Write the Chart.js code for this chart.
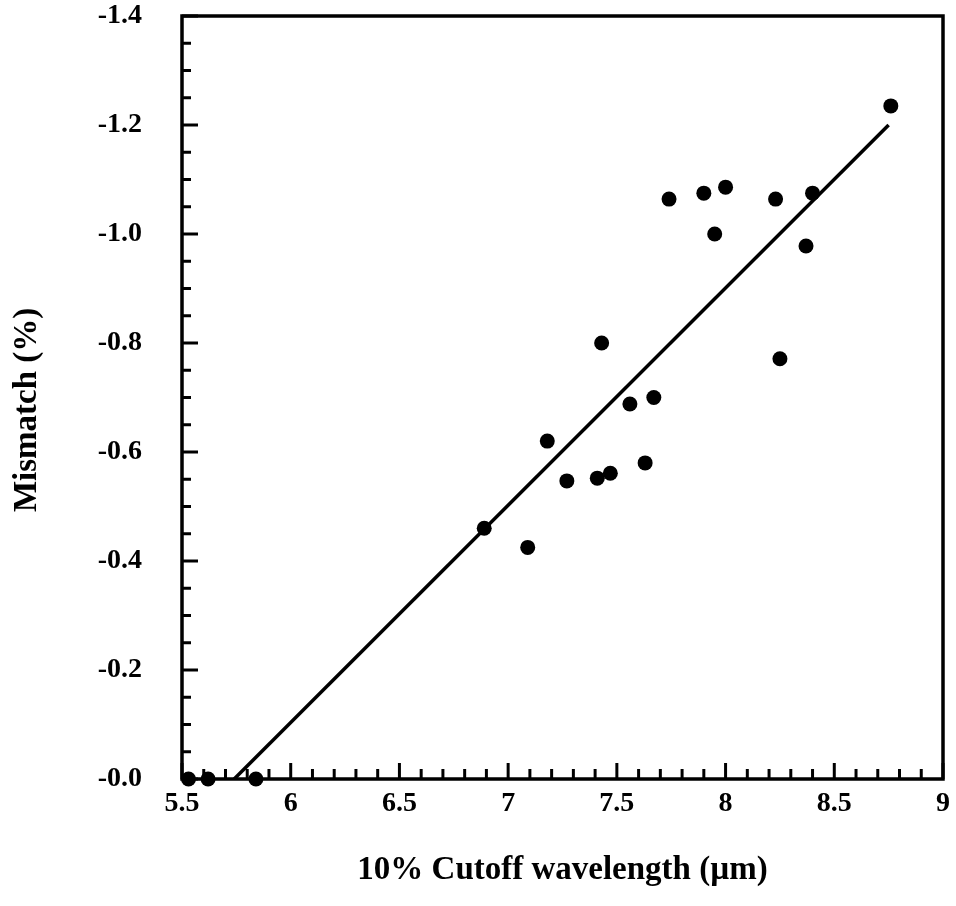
<!DOCTYPE html>
<html>
<head>
<meta charset="utf-8">
<script src="https://cdn.jsdelivr.net/npm/chart.js@4/dist/chart.umd.min.js"></script>
<style>
  html, body { margin: 0; padding: 0; background: #fff; }
  #wrap { width: 956px; height: 906px; }
</style>
</head>
<body>
<div id="wrap"><canvas id="c" width="956" height="906"></canvas></div>
<script>
// ---- data ----
const cutoffWavelength = [5.53, 5.62, 5.84, 6.89, 7.09, 7.18, 7.27, 7.41, 7.47, 7.43, 7.56, 7.63, 7.67, 7.74, 7.90, 8.00, 7.95, 8.23, 8.25, 8.37, 8.40, 8.76];
const mismatch = [0, 0, 0, -0.46, -0.425, -0.62, -0.547, -0.552, -0.561, -0.80, -0.688, -0.58, -0.70, -1.064, -1.075, -1.086, -1.00, -1.064, -0.771, -0.978, -1.075, -1.235];
const fitX = [5.74, 8.75];
const fitY = [0, -1.20];
const xTickValues = [5.5, 6, 6.5, 7, 7.5, 8, 8.5, 9];
const yTickValues = [0, -0.2, -0.4, -0.6, -0.8, -1.0, -1.2, -1.4];
const xTitle = '10% Cutoff wavelength (\u00b5m)';
const yTitle = 'Mismatch (%)';

const FONT = "'Liberation Serif', 'DejaVu Serif', serif";

const pts = cutoffWavelength.map((x, i) => ({ x: x, y: mismatch[i] }));
const fit = fitX.map((x, i) => ({ x: x, y: fitY[i] }));

const frame = {
  id: 'frame',
  afterDatasetsDraw(chart) {
    const { ctx, chartArea: a, scales: { x, y } } = chart;
    ctx.save();
    ctx.strokeStyle = '#000';
    ctx.lineCap = 'butt';
    ctx.lineWidth = 3;
    for (let i = 0; i <= 35; i++) {
      const v = 5.5 + i * 0.1;
      const px = x.getPixelForValue(v);
      const major = i % 5 === 0;
      const len = major ? 16 : 10;
      ctx.beginPath();
      ctx.moveTo(px, a.bottom);
      ctx.lineTo(px, a.bottom - len);
      ctx.stroke();
    }
    for (let i = 0; i <= 28; i++) {
      const v = -i * 0.05;
      const py = y.getPixelForValue(v);
      const major = i % 4 === 0;
      const len = major ? 16 : 9;
      ctx.beginPath();
      ctx.moveTo(a.left, py);
      ctx.lineTo(a.left + len, py);
      ctx.stroke();
    }
    ctx.lineWidth = 3.5;
    ctx.strokeRect(a.left, a.top, a.right - a.left, a.bottom - a.top);
    ctx.restore();
  }
};

new Chart(document.getElementById('c'), {
  type: 'scatter',
  data: {
    datasets: [
      {
        label: 'data',
        data: pts,
        pointRadius: 7.5,
        pointBackgroundColor: '#000',
        pointBorderColor: '#000',
        pointBorderWidth: 0,
        showLine: false,
        clip: false
      },
      {
        label: 'fit',
        data: fit,
        showLine: true,
        borderColor: '#000',
        borderWidth: 3.5,
        pointRadius: 0,
        fill: false
      }
    ]
  },
  options: {
    responsive: false,
    animation: false,
    devicePixelRatio: 1,
    layout: { padding: { top: 16, right: 13, left: 0, bottom: 0 } },
    plugins: { legend: { display: false }, tooltip: { enabled: false } },
    scales: {
      x: {
        type: 'linear',
        min: 5.5, max: 9,
        afterFit(s) { s.height = 127; s.paddingLeft = 0; s.paddingRight = 0; },
        afterBuildTicks(s) { s.ticks = xTickValues.map(v => ({ value: v })); },
        grid: { display: false, drawTicks: false },
        border: { display: false },
        ticks: {
          padding: 8,
          color: '#000',
          font: { family: FONT, size: 28, weight: 'bold' },
          callback: v => String(v)
        },
        title: {
          display: true,
          text: xTitle,
          color: '#000',
          font: { family: FONT, size: 33, weight: 'bold' },
          padding: { top: 0, bottom: 16 }
        }
      },
      y: {
        type: 'linear',
        min: -1.4, max: 0,
        reverse: true,
        afterFit(s) { s.width = 182; s.paddingTop = 0; s.paddingBottom = 0; },
        afterBuildTicks(s) { s.ticks = yTickValues.map(v => ({ value: v })); },
        grid: { display: false, drawTicks: false },
        border: { display: false },
        ticks: {
          padding: 40,
          color: '#000',
          font: { family: FONT, size: 28, weight: 'bold' },
          callback: v => '-' + Math.abs(v).toFixed(1)
        },
        title: {
          display: true,
          text: yTitle + '\u00a0\u00a0\u00a0',
          color: '#000',
          font: { family: FONT, size: 33, weight: 'bold' },
          padding: { top: 8, bottom: 0 }
        }
      }
    }
  },
  plugins: [frame]
});
</script>
</body>
</html>
